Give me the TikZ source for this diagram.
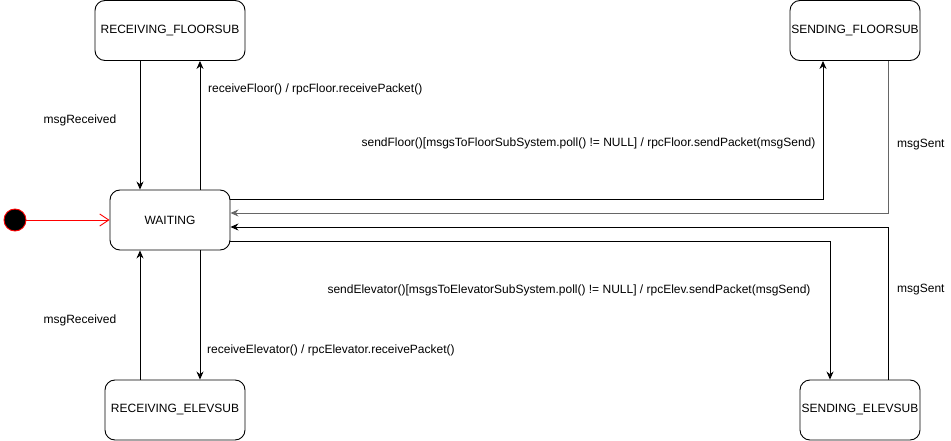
\documentclass[tikz,border=0pt]{standalone}
\usepackage{fontspec}
\setmainfont{Liberation Sans}
\usetikzlibrary{arrows.meta}
\begin{document}
\begin{tikzpicture}[x=1pt,y=-1pt,
  state/.style={draw, rounded corners=10pt, line width=0.9pt, inner sep=0pt,
    font=\fontsize{12}{14}\selectfont},
  arr/.style={draw, line width=0.9pt, -{Stealth[length=8pt,width=7pt]}},
  lbl/.style={font=\fontsize{12}{14}\selectfont, inner sep=0pt}]
\useasboundingbox (0,0) rectangle (951,441);
% states
\node[state, minimum width=150pt, minimum height=60pt] (RF) at (170,30.5) {RECEIVING\_FLOORSUB};
\node[state, minimum width=130pt, minimum height=60pt] (SF) at (855,30.5) {SENDING\_FLOORSUB};
\node[state, minimum width=120pt, minimum height=60pt] (W) at (170,220) {WAITING};
\node[state, minimum width=140pt, minimum height=60pt] (RE) at (175,410) {RECEIVING\_ELEVSUB};
\node[state, minimum width=120pt, minimum height=60pt] (SE) at (860,410) {SENDING\_ELEVSUB};
% initial
\node[circle, fill=black, draw=red, line width=0.9pt, minimum size=22pt, inner sep=0pt] (I) at (15,220) {};
\draw[red, line width=0.9pt, -{Straight Barb[length=9pt,width=12pt]}] (I) -- (W);
% edges
\draw[arr] ([xshift=-30pt]RF.south) -- ([xshift=-30pt]W.north);
\draw[arr] ([xshift=30pt]W.north) -- ([xshift=30pt]RF.south);
\draw[arr] ([yshift=21pt]W.east) -| ([xshift=-32pt]SF.south);
\draw[arr, draw=black!60] ([xshift=33pt]SF.south) |- ([yshift=7pt]W.east);
\draw[arr] ([xshift=28pt]SE.north) |- ([yshift=-7pt]W.east);
\draw[arr] ([yshift=-21pt]W.east) -| ([xshift=-30pt]SE.north);
\coordinate (wd) at ([xshift=30pt]W.south);
\draw[arr] (wd) -- (wd |- RE.north);
\coordinate (wu) at ([xshift=-30pt]W.south);
\draw[arr] (wu |- RE.north) -- (wu);
% labels
\node[lbl] (l1) at (80,120) {msgReceived};
\node[lbl] (l2) at (80,320) {msgReceived};
\node[lbl, anchor=west] (l3) at (208,89) {receiveFloor() / rpcFloor.receivePacket()};
\node[lbl, anchor=west] (l4) at (207,350) {receiveElevator() / rpcElevator.receivePacket()};
\node[lbl] (l5) at (588.5,143) {sendFloor()[msgsToFloorSubSystem.poll() != NULL] / rpcFloor.sendPacket(msgSend)};
\node[lbl] (l6) at (569,290) {sendElevator()[msgsToElevatorSubSystem.poll() != NULL] / rpcElev.sendPacket(msgSend)};
\node[lbl, anchor=west] (l7) at (897,145) {msgSent};
\node[lbl, anchor=west] (l8) at (897,290) {msgSent};
\end{tikzpicture}
\end{document}
